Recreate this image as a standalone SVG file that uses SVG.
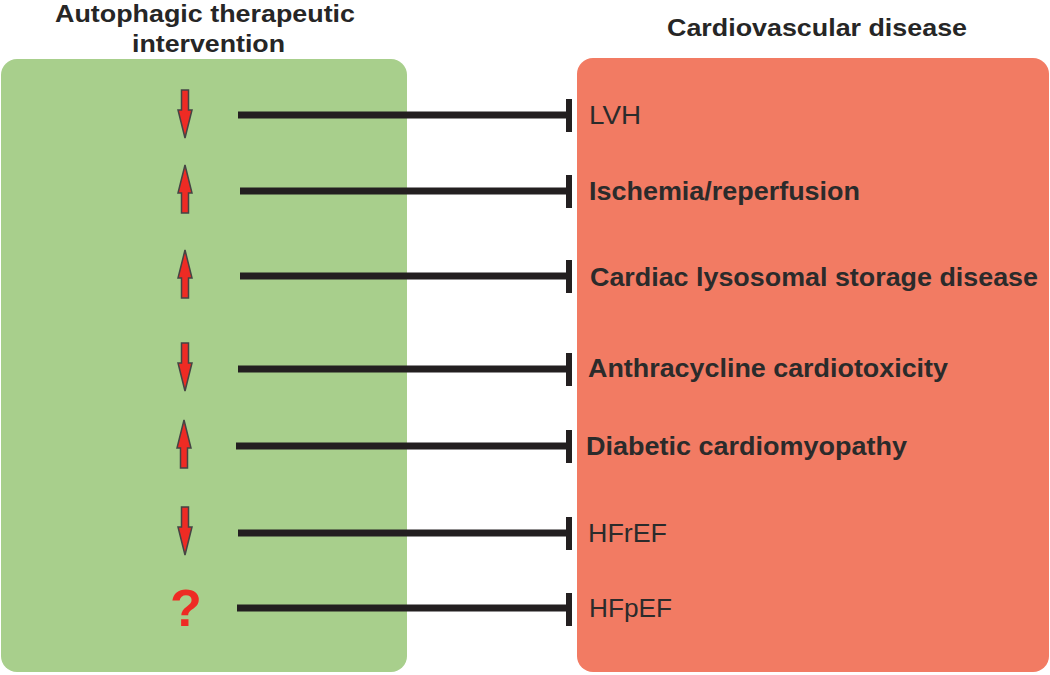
<svg xmlns="http://www.w3.org/2000/svg" xmlns:xlink="http://www.w3.org/1999/xlink" width="1050" height="675" viewBox="0 0 1050 675">
<style>
.hdr{font-family:"Liberation Sans",Arial,sans-serif;font-size:24px;font-weight:bold;fill:#262626;text-anchor:start}
.lbl{font-family:"Liberation Sans",Arial,sans-serif;font-size:26px;font-weight:bold;fill:#2b2b2b}
.lblr{font-family:"Liberation Sans",Arial,sans-serif;font-size:26px;font-weight:normal;fill:#2b2b2b}
.inh{stroke:#231f20;stroke-width:7;fill:none}
.bar{fill:#231f20}
.arr{fill:#ee2b24;stroke:#444;stroke-width:1.5;stroke-linejoin:miter}
</style>
<defs>
<path id="down" class="arr" d="M-3.5,-24 L3.5,-24 L3.5,-4 L7,-4 L0,24 L-7,-4 L-3.5,-4 Z"/>
</defs>
<rect width="1050" height="675" fill="#ffffff"/>
<g id="header-left">
<text class="hdr" x="55" y="22" textLength="300" lengthAdjust="spacingAndGlyphs">Autophagic therapeutic</text>
<text class="hdr" x="132" y="52" textLength="153" lengthAdjust="spacingAndGlyphs">intervention</text>
</g>
<g id="header-right">
<text class="hdr" x="667" y="36" textLength="300" lengthAdjust="spacingAndGlyphs">Cardiovascular disease</text>
</g>
<g id="intervention-box">
<rect x="1" y="59" width="406" height="613" rx="16" fill="#a8cf8c"/>
<use xlink:href="#down" transform="translate(185,114)"/>
<use xlink:href="#down" transform="translate(185,189) rotate(180)"/>
<use xlink:href="#down" transform="translate(185,274) rotate(180)"/>
<use xlink:href="#down" transform="translate(185,367)"/>
<use xlink:href="#down" transform="translate(184,444) rotate(180)"/>
<use xlink:href="#down" transform="translate(185,531)"/>
<text x="186" y="626" font-family="Liberation Sans,Arial,sans-serif" font-size="52" font-weight="600" fill="#ee2b24" text-anchor="middle">?</text>
</g>
<g id="disease-box">
<rect x="577" y="58" width="472" height="614" rx="16" fill="#f27b63"/>
<text class="lblr" x="589" y="124" textLength="52" lengthAdjust="spacingAndGlyphs">LVH</text>
<text class="lbl" x="589" y="200" textLength="271" lengthAdjust="spacingAndGlyphs">Ischemia/reperfusion</text>
<text class="lbl" x="590" y="286" textLength="448" lengthAdjust="spacingAndGlyphs">Cardiac lysosomal storage disease</text>
<text class="lbl" x="588" y="377" textLength="360" lengthAdjust="spacingAndGlyphs">Anthracycline cardiotoxicity</text>
<text class="lbl" x="586" y="455" textLength="321" lengthAdjust="spacingAndGlyphs">Diabetic cardiomyopathy</text>
<text class="lblr" x="588" y="542" textLength="79" lengthAdjust="spacingAndGlyphs">HFrEF</text>
<text class="lblr" x="589" y="617" textLength="83" lengthAdjust="spacingAndGlyphs">HFpEF</text>
</g>
<g id="connectors">
<line class="inh" x1="238" y1="115" x2="568" y2="115"/>
<rect class="bar" x="566" y="99" width="6" height="33"/>
<line class="inh" x1="240" y1="191" x2="568" y2="191"/>
<rect class="bar" x="566" y="175" width="6" height="33"/>
<line class="inh" x1="240" y1="276" x2="568" y2="276"/>
<rect class="bar" x="566" y="260" width="6" height="33"/>
<line class="inh" x1="238" y1="369" x2="568" y2="369"/>
<rect class="bar" x="566" y="353" width="6" height="33"/>
<line class="inh" x1="236" y1="446" x2="568" y2="446"/>
<rect class="bar" x="566" y="430" width="6" height="33"/>
<line class="inh" x1="238" y1="533" x2="568" y2="533"/>
<rect class="bar" x="566" y="517" width="6" height="33"/>
<line class="inh" x1="237" y1="608" x2="568" y2="608"/>
<rect class="bar" x="566" y="593" width="6" height="33"/>
</g>
</svg>
